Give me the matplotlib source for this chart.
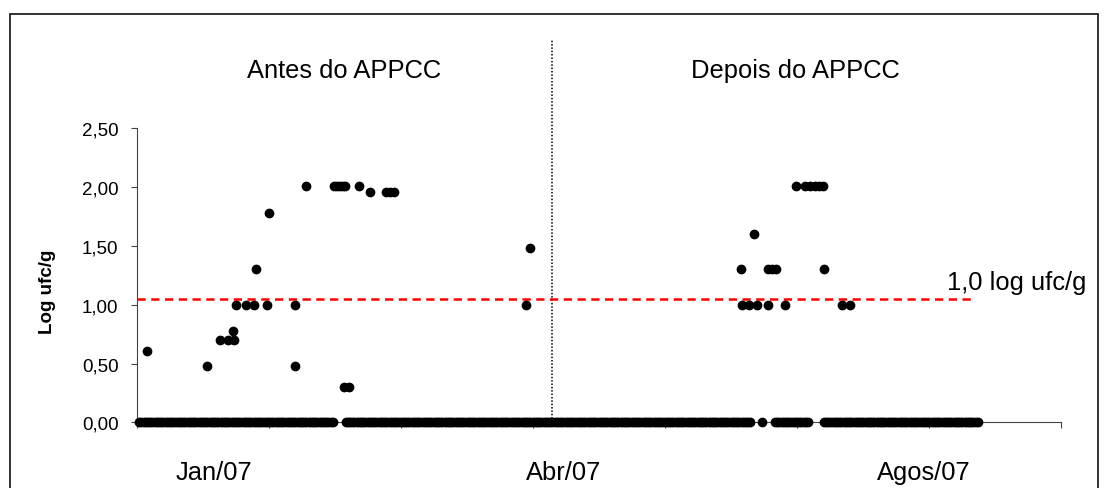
import numpy as np
import matplotlib
matplotlib.use("Agg")
import matplotlib.pyplot as plt
from matplotlib.patches import Rectangle

plt.rcParams["font.family"] = ["Liberation Sans", "DejaVu Sans"]

# =========================
# DATA (x = days since start of Jan/07)
# =========================
# samples with counts above zero (day, log ufc/g)
pos_days = [2.2, 15.8, 18.9, 20.7, 21.8, 22.1, 22.6, 24.7, 26.5, 27.0, 29.5, 30.1,
            35.8, 35.8, 38.5, 44.8, 45.5, 46.1, 46.8, 47.3, 47.1, 48.2, 50.4,
            53.0, 56.6, 57.6, 58.4,
            88.4, 89.3,
            137.2, 140.2, 137.4, 139.0, 140.8, 143.4, 143.3, 144.3, 145.2, 147.3,
            149.7, 151.8, 152.9, 154.1, 155.1, 155.8, 156.2, 160.2, 162.0]
pos_vals = [0.61, 0.48, 0.70, 0.70, 0.78, 0.70, 1.00, 1.00, 1.00, 1.30, 1.00, 1.78,
            1.00, 0.48, 2.01, 2.01, 2.01, 2.01, 2.01, 2.01, 0.30, 0.30, 2.01,
            1.96, 1.96, 1.96, 1.96,
            1.00, 1.48,
            1.30, 1.60, 1.00, 1.00, 1.00, 1.00, 1.30, 1.30, 1.30, 1.00,
            2.01, 2.01, 2.01, 2.01, 2.01, 2.01, 1.30, 1.00, 1.00]

# runs of samples with no growth (start day, end day)
zero_runs = [(0.5, 44.8), (47.4, 139.5), (142.0, 142.0), (145.0, 152.7), (156.1, 191.4)]
zero_step = 0.5

limit = 1.05          # 1,0 log ufc/g reference
limit_end = 190
appcc_day = 94.3      # start of APPCC

month_ticks = [0, 30, 60, 90, 120, 150, 180, 210]
month_labels = ["Jan/07", "Abr/07", "Agos/07"]
month_label_x = [17.4, 97.0, 178.9]
yticks = [0, 0.5, 1.0, 1.5, 2.0, 2.5]

zero_days = np.concatenate([np.arange(a, b + 1e-9, zero_step) for a, b in zero_runs])

# =========================
# PLOT
# =========================
W, H = 1109, 489
fig = plt.figure(figsize=(W / 100, H / 100), dpi=100)
ax = fig.add_axes([137 / W, 1 - 423.3 / H, 924 / W, 294 / H])

# outer frame
fig.patches.append(Rectangle((9.5 / W, -0.1), (1098 - 9.5) / W, 1.1 - 15 / H + 0.0,
                             transform=fig.transFigure, fill=False,
                             edgecolor="#222222", lw=1.3))

ax.plot(zero_days, np.zeros_like(zero_days), "o", color="black", ms=6, clip_on=False, zorder=3)
ax.plot(pos_days, pos_vals, "o", color="black", ms=6, clip_on=False, zorder=3)

ax.plot([0, limit_end], [limit, limit], color="#ff0000", lw=1.8,
        linestyle=(0, (3.3, 2.2)), zorder=2)
ax.plot([appcc_day, appcc_day], [0, 3.26], color="black", lw=1.1,
        linestyle=(0, (1, 1.2)), clip_on=False, zorder=1)

ax.set_xlim(0, 210)
ax.set_ylim(0, 2.5)
ax.set_xticks(month_ticks)
ax.set_xticklabels([])
ax.set_yticks(yticks)
ax.set_yticklabels([f"{v:.2f}".replace(".", ",") for v in yticks], fontsize=13.5)
ax.tick_params(axis="both", direction="out", length=4.3, width=0.8, color="#444444")
ax.tick_params(axis="y", pad=9)
for s in ["top", "right"]:
    ax.spines[s].set_visible(False)
for s in ["left", "bottom"]:
    ax.spines[s].set_color("#444444")
    ax.spines[s].set_linewidth(0.8)

ax.set_ylabel("Log ufc/g", fontsize=13.5, fontweight="bold")
ax.yaxis.set_label_coords((56 - 137) / 924, (423.3 - 291.7) / 294)

for lab, xd in zip(month_labels, month_label_x):
    ax.text(xd, -0.482, lab, ha="center", va="baseline", fontsize=18.4, clip_on=False)

ax.text(47.0, 2.936, "Antes do APPCC", ha="center", va="baseline", fontsize=18.4, clip_on=False)
ax.text(149.6, 2.936, "Depois do APPCC", ha="center", va="baseline", fontsize=18.4, clip_on=False)
ax.text(184.2, 1.133, "1,0 log ufc/g", ha="left", va="baseline", fontsize=18.4, clip_on=False)

fig.savefig("out.png", dpi=100)
